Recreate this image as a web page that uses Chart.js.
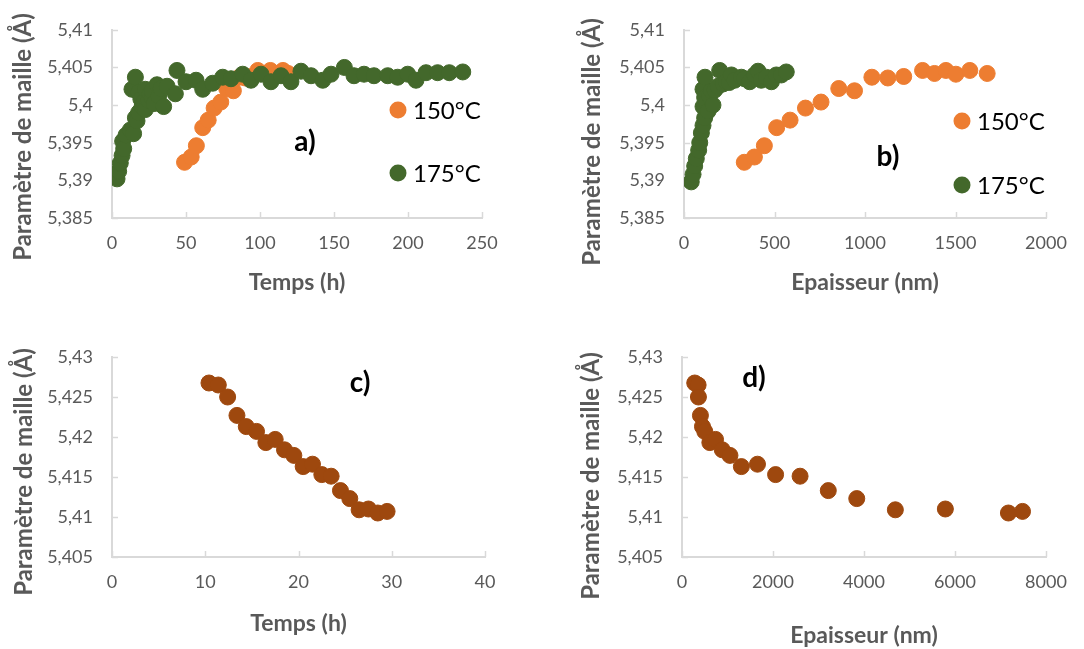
<!DOCTYPE html>
<html>
<head>
<meta charset="utf-8">
<script src="https://cdn.jsdelivr.net/npm/chart.js@4.4.1/dist/chart.umd.min.js"></script>
<style>
  html, body { margin: 0; padding: 0; background: #fff; }
  #wrap { position: relative; width: 1084px; height: 649px; overflow: hidden; }
  canvas { position: absolute; }
</style>
</head>
<body>
<div id="wrap">
  <canvas id="chartA" width="542" height="325" style="left:0;top:0"></canvas>
  <canvas id="chartB" width="542" height="325" style="left:542px;top:0"></canvas>
  <canvas id="chartC" width="542" height="325" style="left:0;top:324px"></canvas>
  <canvas id="chartD" width="542" height="325" style="left:542px;top:324px"></canvas>
</div>
<script>
const ORANGE = "#ED7D31";
const GREEN = "#43682B";
const BROWN = "#9E480E";

// 150°C series (a: time, b: thickness)
const time150 = [49, 53.5, 57, 61.3, 65, 69, 73.5, 77.5, 82, 86, 90, 94, 98.5, 102.5, 107, 111, 115.5, 119];
const thick150 = [333, 389, 444, 512, 586, 671, 757, 855, 942, 1038, 1126, 1214, 1318, 1384, 1447, 1502, 1579, 1675];
const lattice150 = [5.3924, 5.3931, 5.3946, 5.397, 5.398, 5.3996, 5.4004, 5.4022, 5.4019, 5.4037, 5.4036, 5.4038,
  5.4046, 5.4042, 5.4046, 5.4041, 5.4046, 5.4042];

// 175°C series, panel a (time)
const time175 = [3.4, 4.5, 5.6, 6.8, 7.2, 7.9, 9.5, 12.4, 13.5, 14.6, 15.8, 15.8, 16.9, 18, 18, 19.5, 20.3, 21.4,
  22.5, 22.5, 24.8, 25.5, 27, 27, 28.5, 30.4, 31.5, 33, 34.9, 37.2, 42.8, 43.9,
  50, 56.8, 61.3, 68, 74.8, 80.4,
  88.3, 93.9, 100.7, 107.4, 114.2, 120.9, 127.7, 134.5, 142.4, 148, 157, 163.5, 170.3, 177, 186.3, 193, 199.8,
  205.4, 212.2, 220, 227.9, 237];
const lattice175a = [5.3902, 5.3912, 5.3923, 5.3933, 5.3952, 5.3942, 5.396, 5.3967, 5.4021, 5.3962, 5.3983, 5.4037,
  5.3979, 5.399, 5.4017, 5.4008, 5.3998, 5.4004, 5.3994, 5.4021, 5.4006, 5.4015, 5.401, 5.4019, 5.4002, 5.4027,
  5.4012, 5.4022, 5.3998, 5.4025, 5.4015, 5.4046,
  5.4031, 5.4033, 5.4021, 5.4029, 5.4037, 5.4035,
  5.4041, 5.4033, 5.4041, 5.4031, 5.4039, 5.4031, 5.4045, 5.4039, 5.4033, 5.4041, 5.405, 5.4039, 5.4041, 5.4039,
  5.4039, 5.4037, 5.4041, 5.4033, 5.4043, 5.4043, 5.4043, 5.4044];

// 175°C series, panel b (thickness)
const thick175 = [40, 50, 59, 68, 81, 87, 96, 105, 105, 105, 114, 114, 116, 125, 133, 140, 151, 160, 170, 188, 197,
  215, 234, 250, 262, 280, 317, 335, 363, 390, 409, 427, 455, 483, 510, 538, 565];
const lattice175b = [5.3898, 5.3908, 5.3919, 5.3929, 5.394, 5.395, 5.3963, 5.3973, 5.3998, 5.4021, 5.3983, 5.401,
  5.4037, 5.4004, 5.3992, 5.4012, 5.4019, 5.4, 5.402, 5.4025, 5.4046, 5.4028, 5.4031, 5.403, 5.404, 5.4033, 5.4037,
  5.4035, 5.4031, 5.404, 5.4045, 5.4033, 5.4037, 5.4031, 5.404, 5.404, 5.4044];

// panels c and d
const timeC = [10.4, 11.4, 12.4, 13.4, 14.4, 15.5, 16.5, 17.5, 18.5, 19.5, 20.5, 21.5, 22.5, 23.5, 24.5, 25.5, 26.5,
  27.5, 28.5, 29.5];
const thickD = [280, 354, 361, 405, 450, 501, 612, 737, 885, 1054, 1305, 1659, 2057, 2595, 3215, 3841, 4689, 5788,
  7174, 7484];
const latticeCD = [5.42675, 5.4265, 5.425, 5.4227, 5.4213, 5.4207, 5.4193, 5.4197, 5.4184, 5.4177, 5.4163, 5.4166,
  5.4153, 5.4151, 5.4133, 5.4123, 5.4109, 5.411, 5.4105, 5.4107];

// tick values
const xTicksA = [0, 50, 100, 150, 200, 250];
const xTicksB = [0, 500, 1000, 1500, 2000];
const xTicksC = [0, 10, 20, 30, 40];
const xTicksD = [0, 2000, 4000, 6000, 8000];
const yTicksTop = [5.385, 5.39, 5.395, 5.4, 5.405, 5.41];
const yTicksBottom = [5.405, 5.41, 5.415, 5.42, 5.425, 5.43];

const AXIS_GREY = "#d9d9d9";
const TEXT_GREY = "#595959";
const FONT = "Lato";

const pts = (xs, ys) => xs.map((x, i) => ({ x: x, y: ys[i] }));
const comma = v => String(+v.toFixed(3)).replace(".", ",");

// extra drawing: inner tick marks, y title, legend and panel letter
const decor = {
  id: "decor",
  beforeDatasetsDraw(chart) {
    const ctx = chart.ctx;
    const { left, bottom } = chart.chartArea;
    const xs = chart.scales.x, ys = chart.scales.y;
    ctx.save();
    ctx.strokeStyle = AXIS_GREY;
    ctx.lineWidth = 1.5;
    xs.ticks.forEach(t => {
      const px = Math.round(xs.getPixelForValue(t.value)) + 0.5;
      ctx.beginPath(); ctx.moveTo(px, bottom); ctx.lineTo(px, bottom - 6); ctx.stroke();
    });
    ys.ticks.forEach(t => {
      const py = Math.round(ys.getPixelForValue(t.value)) + 0.5;
      ctx.beginPath(); ctx.moveTo(left, py); ctx.lineTo(left + 6, py); ctx.stroke();
    });
    ctx.restore();
  },
  afterDraw(chart, args, o) {
    const ctx = chart.ctx;
    ctx.save();
    // y axis title
    ctx.translate(o.yTitle.x, o.yTitle.y);
    ctx.rotate(-Math.PI / 2);
    ctx.font = "bold 24px " + FONT;
    ctx.fillStyle = TEXT_GREY;
    ctx.textAlign = "center";
    ctx.textBaseline = "middle";
    ctx.fillText("Paramètre de maille (Å)", 0, 0);
    ctx.restore();

    ctx.save();
    (o.legend || []).forEach(l => {
      ctx.fillStyle = l.color;
      ctx.beginPath(); ctx.arc(l.x, l.y, 8.5, 0, Math.PI * 2); ctx.fill();
      ctx.fillStyle = "#000";
      ctx.font = "24px " + FONT;
      ctx.textAlign = "left";
      ctx.textBaseline = "middle";
      ctx.fillText(l.text, l.x + 15, l.y + 1);
    });
    ctx.font = "bold 28px " + FONT;
    ctx.fillStyle = "#000";
    ctx.textAlign = "center";
    ctx.textBaseline = "middle";
    ctx.fillText(o.letter.text, o.letter.x, o.letter.y);
    ctx.restore();
  }
};

function makeChart(id, cfg) {
  new Chart(document.getElementById(id), {
    type: "scatter",
    data: { datasets: cfg.datasets },
    options: {
      responsive: false,
      animation: false,
      devicePixelRatio: 1,
      layout: { padding: cfg.padding },
      elements: { point: { radius: 8, borderWidth: 1, hoverRadius: 8 } },
      plugins: {
        legend: { display: false },
        tooltip: { enabled: false },
        decor: cfg.decor
      },
      scales: {
        x: {
          type: "linear",
          min: cfg.xTicks[0],
          max: cfg.xTicks[cfg.xTicks.length - 1],
          grid: { display: false, drawTicks: false },
          border: { display: true, color: AXIS_GREY, width: 2 },
          afterBuildTicks: s => { s.ticks = cfg.xTicks.map(v => ({ value: v })); },
          afterFit: s => { s.height = cfg.xHeight; },
          ticks: {
            color: TEXT_GREY, font: { family: FONT, size: 18 }, padding: 14,
            maxRotation: 0, autoSkip: false, callback: v => String(v)
          },
          title: {
            display: true, text: cfg.xTitle, color: TEXT_GREY,
            font: { family: FONT, size: 23, weight: "bold" }, padding: { top: 0, bottom: cfg.xTitlePad }
          }
        },
        y: {
          type: "linear",
          min: cfg.yTicks[0],
          max: cfg.yTicks[cfg.yTicks.length - 1],
          grid: { display: false, drawTicks: false },
          border: { display: true, color: AXIS_GREY, width: 2 },
          afterBuildTicks: s => { s.ticks = cfg.yTicks.map(v => ({ value: v })); },
          afterFit: s => { s.width = cfg.yWidth; },
          ticks: {
            color: TEXT_GREY, font: { family: FONT, size: 18 }, padding: 19,
            autoSkip: false, callback: v => comma(v)
          }
        }
      }
    },
    plugins: [decor]
  });
}

makeChart("chartA", {
  datasets: [
    { label: "175°C", data: pts(time175, lattice175a), backgroundColor: GREEN, borderColor: GREEN, order: 0 },
    { label: "150°C", data: pts(time150, lattice150), backgroundColor: ORANGE, borderColor: ORANGE, order: 1 }
  ],
  padding: { left: 0, top: 18, right: 60, bottom: 25 },
  xTicks: xTicksA, yTicks: yTicksTop, yWidth: 112, xHeight: 82, xTitlePad: 4,
  xTitle: "Temps (h)",
  decor: {
    yTitle: { x: 23, y: 137 },
    legend: [{ color: ORANGE, text: "150°C", x: 398, y: 110 }, { color: GREEN, text: "175°C", x: 398, y: 173 }],
    letter: { text: "a)", x: 305, y: 142 }
  }
});

makeChart("chartB", {
  datasets: [
    { label: "175°C", data: pts(thick175, lattice175b), backgroundColor: GREEN, borderColor: GREEN, order: 0 },
    { label: "150°C", data: pts(thick150, lattice150), backgroundColor: ORANGE, borderColor: ORANGE, order: 1 }
  ],
  padding: { left: 0, top: 18, right: 38, bottom: 25 },
  xTicks: xTicksB, yTicks: yTicksTop, yWidth: 142, xHeight: 82, xTitlePad: 4,
  xTitle: "Epaisseur (nm)",
  decor: {
    yTitle: { x: 50, y: 142 },
    legend: [{ color: ORANGE, text: "150°C", x: 420, y: 121 }, { color: GREEN, text: "175°C", x: 420, y: 185 }],
    letter: { text: "b)", x: 346, y: 157 }
  }
});

makeChart("chartC", {
  datasets: [
    { label: "c", data: pts(timeC, latticeCD), backgroundColor: BROWN, borderColor: BROWN }
  ],
  padding: { left: 0, top: 33, right: 57, bottom: 8 },
  xTicks: xTicksC, yTicks: yTicksBottom, yWidth: 112, xHeight: 84, xTitlePad: 4,
  xTitle: "Temps (h)",
  decor: {
    yTitle: { x: 24, y: 148 },
    legend: [],
    letter: { text: "c)", x: 360, y: 59 }
  }
});

makeChart("chartD", {
  datasets: [
    { label: "d", data: pts(thickD, latticeCD), backgroundColor: BROWN, borderColor: BROWN }
  ],
  padding: { left: 0, top: 33, right: 38, bottom: 0 },
  xTicks: xTicksD, yTicks: yTicksBottom, yWidth: 140, xHeight: 92, xTitlePad: 0,
  xTitle: "Epaisseur (nm)",
  decor: {
    yTitle: { x: 49, y: 152 },
    legend: [],
    letter: { text: "d)", x: 212, y: 54 }
  }
});
</script>
</body>
</html>
